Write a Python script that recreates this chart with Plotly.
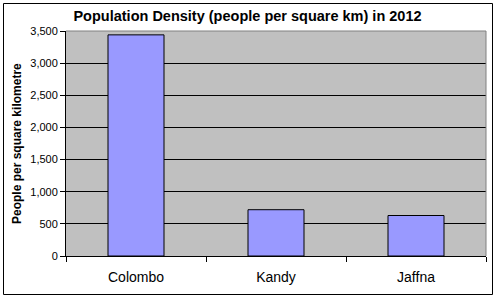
import plotly.graph_objects as go

cities = ["Colombo", "Kandy", "Jaffna"]
density = [3440, 720, 630]
y_ticks = [0, 500, 1000, 1500, 2000, 2500, 3000, 3500]

L, R, T, B = 66, 9, 31, 42
W, H = 495, 298
pw, ph = W - L - R, H - T - B

def px(x):
    return (x - L) / pw

def py(y):
    return (H - B - y) / ph

fig = go.Figure(go.Bar(
    x=cities, y=density,
    marker=dict(color="#9999FF", line=dict(color="black", width=1)),
))

fig.update_layout(
    width=W, height=H,
    margin=dict(l=L, r=R, t=T, b=B),
    paper_bgcolor="white",
    plot_bgcolor="#C0C0C0",
    bargap=0.6,
    showlegend=False,
    font=dict(family="Arial, Liberation Sans", color="black"),
    title=dict(
        text="<b>Population Density (people per square km) in 2012</b>",
        x=247.5 / W, xref="container", xanchor="center",
        y=1 - 16 / H, yref="container", yanchor="middle",
        font=dict(size=14.5, color="black"),
    ),
    xaxis=dict(
        type="category", range=[-0.5, 2.5],
        tickson="boundaries", ticks="outside", ticklen=5, tickcolor="black",
        showline=True, linecolor="black", linewidth=1,
        showgrid=False, tickfont=dict(size=14), ticklabelstandoff=8,
    ),
    yaxis=dict(
        range=[0, 3500], tickvals=y_ticks, tickformat=",",
        ticks="outside", ticklen=5, tickcolor="black",
        showline=True, linecolor="black", linewidth=1,
        showgrid=True, gridcolor="black", gridwidth=1,
        zeroline=False, tickfont=dict(size=11),
    ),
    annotations=[dict(
        text="<b>People per square kilometre</b>", textangle=-90,
        x=px(17), y=py(144), xref="paper", yref="paper",
        xanchor="center", yanchor="middle",
        showarrow=False, font=dict(size=12, color="black"),
    )],
    shapes=[
        dict(type="line", xref="paper", yref="paper", x0=0, x1=1, y0=1, y1=1,
             line=dict(color="#808080", width=1)),
        dict(type="line", xref="paper", yref="paper", x0=1, x1=1, y0=0, y1=1,
             line=dict(color="#808080", width=1)),
        dict(type="rect", xref="paper", yref="paper",
             x0=px(3.5), x1=px(492.5), y0=py(294.5), y1=py(3.5),
             line=dict(color="black", width=1)),
    ],
)

fig.write_html("out.html")
